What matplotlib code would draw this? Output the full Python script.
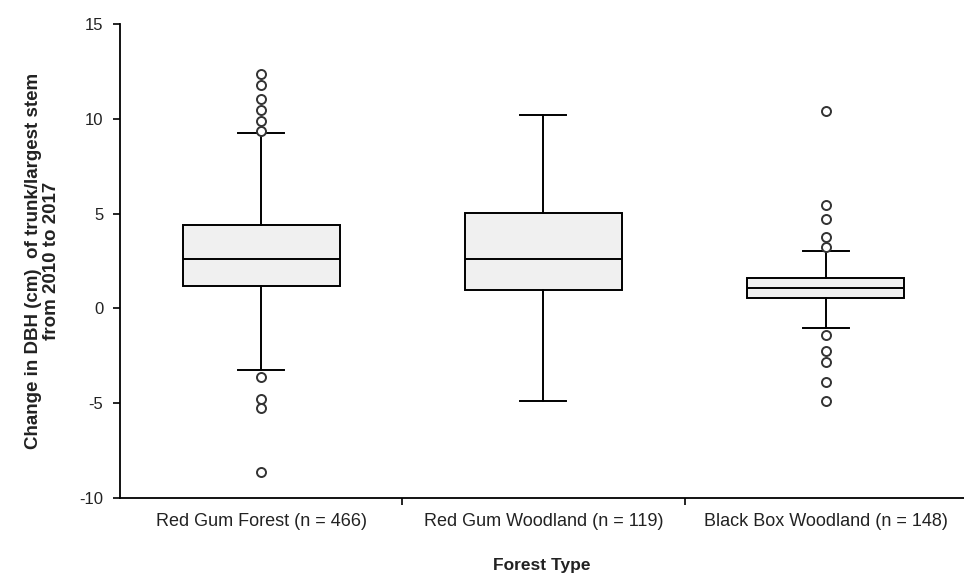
import matplotlib
matplotlib.use("Agg")
import matplotlib.pyplot as plt

plt.rcParams['font.family'] = ['Liberation Sans', 'DejaVu Sans']
plt.rcParams['axes.unicode_minus'] = False

# box summaries per forest type (cm change in DBH)
forest_types = ["Red Gum Forest (n = 466)", "Red Gum Woodland (n = 119)",
                "Black Box Woodland (n = 148)"]
medians = [2.63, 2.63, 1.05]
q1 = [1.2, 0.95, 0.53]
q3 = [4.42, 5.05, 1.58]
whisker_low = [-3.26, -4.9, -1.05]
whisker_high = [9.26, 10.2, 3.05]
outliers = [
    [12.37, 11.8, 11.05, 10.47, 9.9, 9.37, -3.63, -4.79, -5.26, -8.63],
    [],
    [10.42, 5.47, 4.74, 3.79, 3.26, -1.42, -2.26, -2.84, -3.89, -4.89],
]


def main():
    fig = plt.figure(figsize=(9.64, 5.75), dpi=100)
    ax = fig.add_axes([0.1245, 0.1339, 0.8755, 0.8244])

    stats = []
    for i in range(len(forest_types)):
        stats.append(dict(med=medians[i], q1=q1[i], q3=q3[i],
                          whislo=whisker_low[i], whishi=whisker_high[i],
                          fliers=outliers[i]))

    ax.bxp(stats, positions=range(len(stats)), widths=0.557,
           patch_artist=True, showfliers=True,
           boxprops=dict(facecolor="#f0f0f0", edgecolor="black", linewidth=1.4),
           medianprops=dict(color="black", linewidth=1.4),
           whiskerprops=dict(color="black", linewidth=1.4),
           capprops=dict(color="black", linewidth=1.4),
           capwidths=0.163,
           flierprops=dict(marker="o", markersize=6.5, markerfacecolor="white",
                           markeredgecolor="#333333", markeredgewidth=1.4))

    ax.set_xlim(-0.5, 2.49)
    ax.set_ylim(-10, 15)
    ax.set_yticks([-10, -5, 0, 5, 10, 15])

    # category names sit between the boundary ticks
    ax.set_xticks(range(len(forest_types)))
    ax.set_xticklabels(forest_types, fontsize=13, color="#222222")
    ax.tick_params(axis="x", which="major", length=0, pad=11)
    ax.set_xticks([0.5, 1.5], minor=True)
    ax.tick_params(axis="x", which="minor", length=5, width=1.2, direction="out")
    ax.tick_params(axis="y", length=5, width=1.2, direction="out", pad=7,
                   labelsize=12, labelcolor="#222222")

    for side in ["top", "right"]:
        ax.spines[side].set_visible(False)
    for side in ["left", "bottom"]:
        ax.spines[side].set_linewidth(1.3)

    ax.set_ylabel("Change in DBH (cm)  of trunk/largest stem\nfrom 2010 to 2017",
                  fontsize=13.5, fontweight="bold", labelpad=14, linespacing=1.05,
                  color="#222222")
    ax.set_xlabel("Forest Type", fontsize=12.5, fontweight="bold", labelpad=20,
                  color="#222222")

    fig.savefig("out.png", dpi=100)


if __name__ == "__main__":
    main()
